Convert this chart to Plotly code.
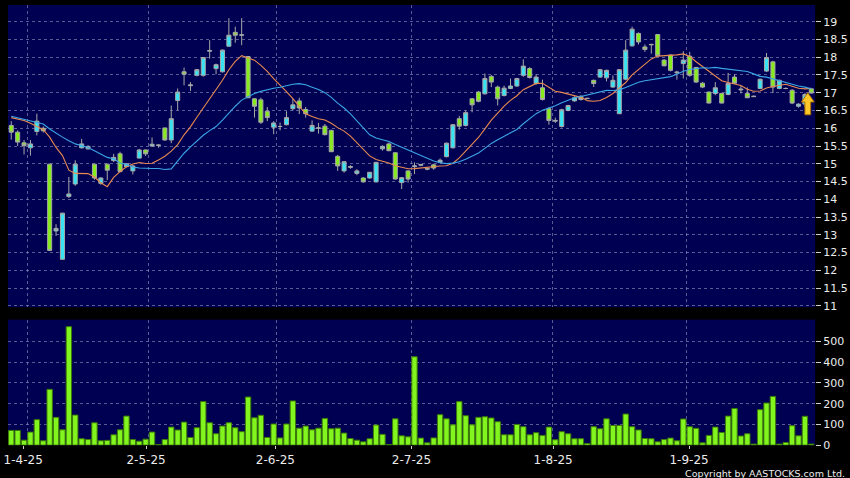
import plotly.graph_objects as go
import pandas as pd

# ---------------- data ----------------
opens = [16.08, 15.89, 15.59, 15.45, 15.91, 16.0, 14.99, 13.11, 12.31, 14.08,
         14.43, 15.45, 15.42, 14.99, 14.45, 14.99, 15.09, 15.28, 14.92, 14.8,
         15.16, 15.39, 15.5, 15.53, 16.01, 15.67, 16.78, 17.59, 17.2, 17.49,
         17.49, 18.17, 17.68, 17.59, 18.31, 18.7, 18.62, 18.02, 16.83, 16.8,
         16.48, 16.03, 16.05, 16.1, 16.55, 16.77, 16.53, 15.92, 16.0, 16.06,
         15.94, 15.21, 14.8, 14.9, 14.73, 14.6, 14.6, 14.49, 15.42, 15.56,
         15.31, 14.47, 14.8, 14.92, 14.96, 14.87, 14.97, 15.04, 15.2, 15.45,
         16.27, 16.08, 16.83, 17.02, 16.97, 17.46, 17.16, 16.92, 17.12, 17.19,
         17.49, 17.68, 17.26, 17.14, 16.55, 16.2, 16.05, 16.5, 16.77, 16.9,
         16.84, 17.35, 17.44, 17.42, 17.16, 16.41, 17.38, 18.32, 18.67, 18.29,
         18.35, 18.64, 17.92, 18.06, 17.56, 17.82, 18.03, 17.71, 17.27, 17.02,
         16.98, 16.98, 16.95, 17.44, 17.08, 16.98, 16.89, 17.12, 17.61, 17.87,
         17.12, 17.12, 17.07, 16.62, 16.68, 17.11]
highs = [16.2, 15.94, 15.67, 15.67, 16.41, 16.05, 15.0, 13.3, 13.62, 14.63,
         15.1, 15.7, 15.52, 15.0, 14.62, 15.0, 15.28, 15.34, 15.02, 14.97,
         15.42, 15.4, 15.74, 15.55, 16.01, 16.64, 17.12, 17.71, 17.3, 17.66,
         18.0, 18.48, 17.82, 18.22, 19.1, 18.86, 19.1, 18.03, 16.85, 16.86,
         16.6, 16.2, 16.16, 16.48, 16.83, 16.86, 16.6, 16.22, 16.15, 16.12,
         15.96, 15.25, 15.08, 14.96, 14.85, 14.62, 14.77, 15.05, 15.52, 15.6,
         15.33, 14.62, 14.82, 15.04, 15.0, 14.9, 15.0, 15.15, 15.6, 16.12,
         16.35, 16.5, 16.85, 17.05, 17.54, 17.5, 17.2, 17.2, 17.4, 17.42,
         17.94, 17.72, 17.52, 17.37, 16.6, 16.3, 16.55, 16.66, 16.9, 16.93,
         16.86, 17.37, 17.67, 17.65, 17.49, 17.67, 18.48, 18.86, 18.7, 18.36,
         18.38, 18.65, 17.94, 18.08, 17.62, 18.17, 18.15, 17.73, 17.3, 17.03,
         17.3, 17.0, 17.56, 17.52, 17.2, 17.15, 16.92, 17.4, 18.12, 17.9,
         17.37, 17.15, 17.1, 16.7, 17.0, 17.12]
lows = [15.68, 15.5, 15.26, 15.23, 15.8, 15.88, 12.55, 12.97, 12.3, 14.04,
        14.38, 15.43, 15.4, 14.55, 14.41, 14.54, 15.05, 14.76, 14.9, 14.7,
        15.15, 15.22, 15.48, 15.45, 15.65, 15.58, 16.5, 17.21, 17.05, 17.46,
        17.45, 17.96, 17.52, 17.57, 18.3, 18.41, 18.34, 16.85, 16.3, 16.12,
        16.2, 15.83, 15.94, 16.08, 16.5, 16.4, 16.3, 15.9, 15.85, 15.8,
        15.33, 14.8, 14.75, 14.86, 14.68, 14.47, 14.58, 14.48, 15.37, 15.35,
        14.55, 14.29, 14.47, 14.71, 14.93, 14.82, 14.83, 15.02, 15.18, 15.43,
        15.96, 16.05, 16.45, 16.73, 16.95, 17.16, 16.64, 16.9, 17.1, 17.17,
        17.45, 17.4, 17.22, 16.78, 16.1, 16.15, 16.02, 16.48, 16.75, 16.78,
        16.82, 17.16, 17.42, 17.32, 17.14, 16.4, 17.35, 18.3, 18.36, 18.15,
        18.1, 18.02, 17.74, 17.6, 17.37, 17.4, 17.45, 17.28, 17.13, 16.7,
        16.93, 16.7, 16.93, 17.25, 16.98, 16.85, 16.88, 17.1, 17.58, 16.99,
        17.1, 17.1, 16.68, 16.58, 16.6, 16.98]
closes = [15.89, 15.61, 15.51, 15.56, 16.2, 15.93, 12.56, 13.18, 13.61, 14.15,
          14.99, 15.56, 15.49, 14.6, 14.6, 14.82, 15.18, 14.78, 15.0, 14.94,
          15.39, 15.28, 15.55, 15.52, 15.67, 16.27, 17.02, 17.52, 17.22, 17.65,
          17.99, 18.19, 17.79, 18.2, 18.62, 18.62, 18.63, 16.86, 16.62, 16.17,
          16.3, 16.15, 16.05, 16.3, 16.66, 16.57, 16.41, 16.08, 16.01, 15.82,
          15.34, 14.94, 15.06, 14.92, 14.8, 14.49, 14.76, 15.04, 15.49, 15.37,
          14.57, 14.61, 14.57, 14.94, 14.98, 14.85, 14.88, 15.1, 15.58, 16.1,
          16.06, 16.44, 16.66, 16.76, 17.4, 17.3, 16.83, 17.13, 17.19, 17.4,
          17.75, 17.43, 17.44, 16.81, 16.22, 16.22, 16.52, 16.64, 16.86, 16.81,
          16.84, 17.26, 17.65, 17.63, 17.35, 17.65, 18.2, 18.79, 18.43, 18.22,
          18.36, 18.04, 17.76, 17.63, 17.58, 17.92, 17.49, 17.3, 17.16, 16.71,
          17.14, 16.71, 17.26, 17.27, 17.1, 16.86, 16.9, 17.38, 17.99, 17.16,
          17.35, 17.12, 16.71, 16.68, 16.95, 16.99]
volumes = [71, 71, 24, 63, 123, 21, 269, 134, 74, 571,
           145, 31, 27, 108, 21, 23, 50, 74, 140, 27,
           19, 29, 63, 3, 27, 87, 73, 111, 37, 84,
           210, 108, 55, 92, 108, 84, 65, 232, 132, 144,
           37, 102, 35, 102, 213, 82, 92, 74, 82, 129,
           79, 82, 58, 32, 24, 16, 31, 97, 52, 3,
           127, 45, 40, 426, 34, 11, 35, 147, 127, 98,
           210, 142, 98, 134, 137, 131, 113, 50, 50, 100,
           89, 50, 60, 47, 87, 26, 65, 55, 31, 31,
           8, 89, 79, 127, 95, 95, 150, 89, 73, 32,
           31, 16, 27, 34, 21, 126, 89, 81, 11, 47,
           87, 61, 140, 177, 44, 55, 5, 171, 203, 235,
           5, 13, 94, 45, 139, 5]
# moving averages before enough history is available
ma10_early = [16.3, 16.27, 16.22, 16.14, 16.05, 15.96, 15.75, 15.46, 15.23]
ma20_early = [16.34, 16.3, 16.25, 16.21, 16.17, 16.12, 15.98, 15.86, 15.75, 15.65,
              15.56, 15.51, 15.46, 15.37, 15.28, 15.18, 15.14, 15.02, 14.98]
tick_labels = ["1-4-25", "2-5-25", "2-6-25", "2-7-25", "1-8-25", "1-9-25"]
tick_pos = [1.87, 21.06, 41.27, 62.52, 84.66, 105.9]
grid_pos = [2.5, 21.5, 41.5, 62.5, 84.5, 105.5]
price_ticks = [11, 11.5, 12, 12.5, 13, 13.5, 14, 14.5, 15, 15.5, 16, 16.5,
               17, 17.5, 18, 18.5, 19]
vol_ticks = [0, 100, 200, 300, 400, 500]

# ---------------- derived ----------------
idx = list(range(len(closes)))
s = pd.Series(closes)
ma10 = s.rolling(10).mean().tolist()
ma20 = s.rolling(20).mean().tolist()
ma10[:len(ma10_early)] = ma10_early
ma20[:len(ma20_early)] = ma20_early

NAVY = "#000052"
GRID = "rgba(150,150,195,0.6)"
TXT = "#ececec"
FONT = "DejaVu Sans"
DASH = "3px,3px"
H = 487  # page height (positions below are fractions of a 478-px design)

fig = go.Figure()
fig.add_trace(go.Candlestick(
    x=idx, open=opens, high=highs, low=lows, close=closes,
    increasing=dict(fillcolor="#38e4f4", line=dict(color="#a8a8a8", width=1)),
    decreasing=dict(fillcolor="#86ec1c", line=dict(color="#a8a8a8", width=1)),
    whiskerwidth=0, xaxis="x", yaxis="y", showlegend=False, hoverinfo="skip"))
fig.add_trace(go.Scatter(x=idx, y=ma10, mode="lines",
                         line=dict(color="#e88a50", width=1.1),
                         xaxis="x", yaxis="y", showlegend=False, hoverinfo="skip"))
fig.add_trace(go.Scatter(x=idx, y=ma20, mode="lines",
                         line=dict(color="#3aa6e6", width=1.1),
                         xaxis="x", yaxis="y", showlegend=False, hoverinfo="skip"))
fig.add_trace(go.Bar(x=idx, y=volumes, marker=dict(color="#82f41e",
                     line=dict(color="#3c7a08", width=1)),
                     width=0.84, xaxis="x2", yaxis="y2", showlegend=False,
                     hoverinfo="skip"))

# yellow up-arrow under the last candle
lx = idx[-1] - 0.55
top = lows[-1] + 0.02
bot = top - 0.62
hh = 0.26
hw = 1.0
sw = 0.45
path = (f"M {lx} {top} L {lx + hw} {top - hh} L {lx + sw} {top - hh} "
        f"L {lx + sw} {bot} L {lx - sw} {bot} L {lx - sw} {top - hh} "
        f"L {lx - hw} {top - hh} Z")
fig.add_shape(type="path", path=path, xref="x", yref="y",
              fillcolor="#ffc828", line=dict(color="#a87000", width=1))

x_rng = [-0.51, 125.6]
xdom = [4 / 850, 815 / 850]
fig.update_layout(
    width=850, height=H,
    margin=dict(l=0, r=0, t=0, b=0),
    paper_bgcolor="black", plot_bgcolor=NAVY,
    font=dict(family=FONT, color=TXT, size=11),
    bargap=0.16, boxgap=0.1,
    xaxis=dict(domain=xdom, range=x_rng, anchor="y", tickvals=grid_pos,
               showticklabels=False, ticks="", showgrid=True, griddash=DASH,
               gridcolor=GRID, gridwidth=1, zeroline=False, showline=False,
               rangeslider=dict(visible=False), fixedrange=True),
    yaxis=dict(domain=[1 - 306 / 478, 1 - 5 / 478], range=[10.96, 19.47],
               anchor="x", side="right", tickvals=price_ticks, ticks="outside",
               ticklen=5, tickcolor="#cfcfcf", showgrid=True, griddash=DASH,
               gridcolor=GRID, zeroline=False, showline=False,
               ticklabeloverflow="allow", tickfont=dict(size=11)),
    xaxis2=dict(domain=xdom, range=x_rng, anchor="y2", tickvals=tick_pos,
                ticktext=tick_labels, ticks="outside", ticklen=3,
                tickcolor="#cfcfcf", showgrid=False, zeroline=False,
                showline=False, tickfont=dict(size=12),
                ticklabeloverflow="allow",
                minor=dict(tickvals=grid_pos, showgrid=True, griddash=DASH,
                           gridcolor=GRID, ticks="")),
    yaxis2=dict(domain=[1 - 443.3 / 478, 1 - 318.3 / 478], range=[0, 605],
                anchor="x2", side="right", tickvals=vol_ticks, ticks="outside",
                ticklen=5, tickcolor="#cfcfcf", showgrid=True, griddash=DASH,
                gridcolor=GRID, zeroline=False, showline=False,
                ticklabeloverflow="allow", tickfont=dict(size=11)),
    annotations=[dict(text="Copyright by AASTOCKS.com Ltd.", xref="paper",
                      yref="paper", x=846 / 850, y=0,
                      xanchor="right", yanchor="bottom", showarrow=False,
                      borderpad=0,
                      font=dict(size=9.5, color=TXT, family=FONT))],
)
fig.write_html(
    "out.html",
    config={"displayModeBar": False, "responsive": False},
    post_script=("var s=document.documentElement.style, b=document.body.style;"
                 "s.margin='0';s.padding='0';s.overflow='hidden';"
                 "b.margin='0';b.padding='0';b.overflow='hidden';"
                 "b.background='black';s.background='black';"),
)
